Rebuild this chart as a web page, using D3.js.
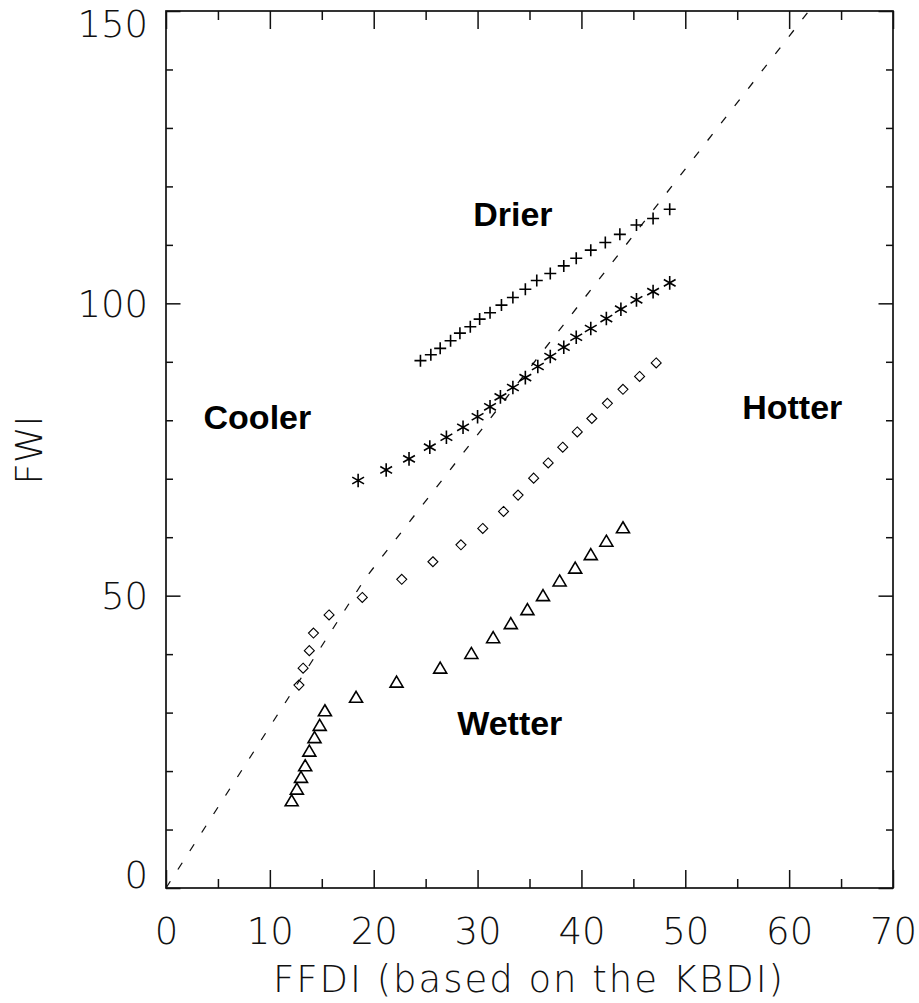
<!DOCTYPE html>
<html>
<head>
<meta charset="utf-8">
<script src="https://d3js.org/d3.v7.min.js"></script>
<style>
  body { margin: 0; background: #fff; }
  .lbl { font-family: "DejaVu Sans", sans-serif; font-weight: 200; fill: #111; }
  .note { font-family: "Liberation Sans", Arial, sans-serif; font-weight: bold; fill: #000; }
</style>
</head>
<body>
<div id="chart"></div>
<script>
// Values (FFDI on x, FWI on y)
const drierX = [24.5, 25.5, 26.4, 27.4, 28.3, 29.3, 30.2, 31.2, 32.3, 33.4, 34.6, 35.7, 37.0, 38.3, 39.5, 40.9, 42.3, 43.7, 45.3, 46.9, 48.5];
const drierY = [90.2, 91.2, 92.3, 93.6, 94.9, 96.0, 97.3, 98.4, 99.7, 101.0, 102.4, 103.9, 105.1, 106.4, 107.7, 109.1, 110.4, 111.8, 113.4, 114.5, 116.1];

const hotX = [18.5, 21.2, 23.4, 25.4, 27.0, 28.6, 30.0, 31.2, 32.2, 33.4, 34.6, 35.8, 37.0, 38.3, 39.5, 40.9, 42.4, 43.8, 45.3, 46.9, 48.5];
const hotY = [69.7, 71.5, 73.4, 75.4, 77.1, 78.8, 80.6, 82.3, 84.0, 85.6, 87.3, 89.2, 90.9, 92.5, 94.2, 95.7, 97.4, 99.0, 100.6, 102.0, 103.5];

const baseX = [12.8, 13.2, 13.8, 14.2, 15.7, 18.9, 22.7, 25.7, 28.4, 30.5, 32.5, 33.9, 35.4, 36.8, 38.2, 39.6, 41.0, 42.5, 44.0, 45.6, 47.2];
const baseY = [34.7, 37.6, 40.6, 43.6, 46.7, 49.7, 52.8, 55.8, 58.7, 61.5, 64.4, 67.2, 70.1, 72.7, 75.4, 78.0, 80.3, 82.9, 85.3, 87.5, 89.8];

const wetX = [12.1, 12.6, 13.0, 13.4, 13.8, 14.3, 14.8, 15.3, 18.3, 22.2, 26.4, 29.4, 31.5, 33.2, 34.8, 36.3, 37.9, 39.4, 40.9, 42.4, 44.0];
const wetY = [15.0, 17.0, 19.0, 21.0, 23.5, 25.8, 27.9, 30.4, 32.7, 35.3, 37.7, 40.2, 42.9, 45.3, 47.7, 50.1, 52.6, 54.8, 57.1, 59.4, 61.7];

// dashed reference curve
const refX = [0, 19.2, 61.9];
const refY = [0, 53, 150];

const xTicks = [0, 10, 20, 30, 40, 50, 60, 70];
const xMinor = [5, 15, 25, 35, 45, 55, 65];
const yTicks = [0, 50, 100, 150];
const yMinor = [10, 20, 30, 40, 60, 70, 80, 90, 110, 120, 130, 140];

const notes = [
  { text: "Drier", fx: 33.4, fy: 113.3 },
  { text: "Cooler", fx: 8.8, fy: 78.5 },
  { text: "Hotter", fx: 60.3, fy: 80.3 },
  { text: "Wetter", fx: 33.1, fy: 26.2 }
];

const W = 919, H = 1003;
const pLeft = 166, pRight = 893, pTop = 11, pBottom = 888;

const svg = d3.select('#chart').append('svg')
    .attr('width', W).attr('height', H);

const x = d3.scaleLinear().domain([0, 70]).range([pLeft, pRight]);
const y = d3.scaleLinear().domain([0, 150]).range([pBottom, pTop]);

// marker shapes
function plusPath(s) {
    return `M${-s},0H${s}M0,${-s}V${s}`;
}
function starPath(r) {
    const t = r / 2, u = t * Math.sqrt(3);
    return `M0,${r}L0,${-r}M${-u},${-t}L${u},${t}M${-u},${t}L${u},${-t}`;
}
function diamondPath(s) {
    return `M0,${-s}L${s},0L0,${s}L${-s},0Z`;
}
function trianglePath(w, h) {
    return `M0,${-h / 2}L${w / 2},${h / 2}L${-w / 2},${h / 2}Z`;
}

// axes
const axisStyle = g => {
    g.select('.domain').remove();
    g.selectAll('line').attr('stroke', '#111').attr('stroke-width', 1.5);
};

svg.append('g').attr('transform', `translate(0,${pBottom})`)
    .call(d3.axisBottom(x).tickValues(xTicks).tickSize(-18).tickFormat(d3.format('d')))
    .call(axisStyle)
    .call(g => g.selectAll('text')
        .attr('class', 'lbl').attr('y', 56).attr('dy', 0)
        .style('font-size', '37px'));

svg.append('g').attr('transform', `translate(0,${pBottom})`)
    .call(d3.axisBottom(x).tickValues(xMinor).tickSize(-9).tickFormat(''))
    .call(axisStyle);

svg.append('g').attr('transform', `translate(0,${pTop})`)
    .call(d3.axisTop(x).tickValues(xTicks).tickSize(-18).tickFormat(''))
    .call(axisStyle);

svg.append('g').attr('transform', `translate(0,${pTop})`)
    .call(d3.axisTop(x).tickValues(xMinor).tickSize(-9).tickFormat(''))
    .call(axisStyle);

svg.append('g').attr('transform', `translate(${pLeft},0)`)
    .call(d3.axisLeft(y).tickValues(yTicks).tickSize(-14.5).tickFormat(d3.format('d')))
    .call(axisStyle)
    .call(g => g.selectAll('text')
        .attr('class', 'lbl')
        .attr('x', -18)
        .attr('y', d => Math.max(pTop + 12, Math.min(pBottom - 14, y(d))) - y(d))
        .attr('dy', '0.36em')
        .style('font-size', '37px')
        .style('text-anchor', 'end'));

svg.append('g').attr('transform', `translate(${pLeft},0)`)
    .call(d3.axisLeft(y).tickValues(yMinor).tickSize(-7).tickFormat(''))
    .call(axisStyle);

svg.append('g').attr('transform', `translate(${pRight},0)`)
    .call(d3.axisRight(y).tickValues(yTicks).tickSize(-14.5).tickFormat(''))
    .call(axisStyle);

svg.append('g').attr('transform', `translate(${pRight},0)`)
    .call(d3.axisRight(y).tickValues(yMinor).tickSize(-7).tickFormat(''))
    .call(axisStyle);

// frame
svg.append('rect')
    .attr('x', pLeft).attr('y', pTop)
    .attr('width', pRight - pLeft).attr('height', pBottom - pTop)
    .attr('fill', 'none').attr('stroke', '#111').attr('stroke-width', 1.7);

// axis titles
svg.append('text').attr('class', 'lbl')
    .attr('x', 528).attr('y', 992)
    .attr('text-anchor', 'middle')
    .attr('textLength', 510).attr('lengthAdjust', 'spacing')
    .style('font-size', '37px')
    .text('FFDI (based on the KBDI)');

svg.append('text').attr('class', 'lbl')
    .attr('transform', 'translate(42,450) rotate(-90)')
    .attr('text-anchor', 'middle')
    .style('font-size', '37px')
    .text('FWI');

// dashed reference curve
const line = d3.line().x((d, i) => x(refX[i])).y((d, i) => y(refY[i]));
svg.append('path')
    .attr('d', line(refX))
    .attr('fill', 'none').attr('stroke', '#111')
    .attr('stroke-width', 1.3).attr('stroke-dasharray', '8,14');

// series
function drawSeries(xs, ys, d, sw) {
    svg.append('g').selectAll('path')
        .data(xs)
        .join('path')
        .attr('transform', (v, i) => `translate(${x(v)},${y(ys[i])})`)
        .attr('d', d)
        .attr('fill', 'none').attr('stroke', '#000')
        .attr('stroke-width', sw);
}

drawSeries(drierX, drierY, plusPath(6), 1.6);
drawSeries(hotX, hotY, starPath(6.8), 1.6);
drawSeries(baseX, baseY, diamondPath(5), 1.1);
drawSeries(wetX, wetY, trianglePath(13, 11), 1.6);

// region notes
svg.append('g').selectAll('text')
    .data(notes)
    .join('text')
    .attr('class', 'note')
    .attr('x', d => x(d.fx)).attr('y', d => y(d.fy))
    .attr('text-anchor', 'middle')
    .style('font-size', '34px')
    .text(d => d.text);
</script>
</body>
</html>
